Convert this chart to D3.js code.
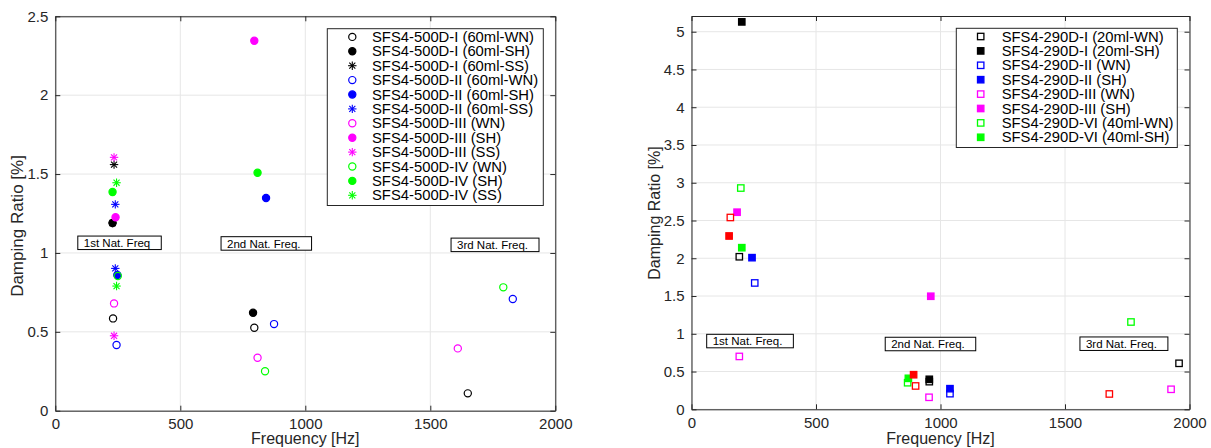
<!DOCTYPE html>
<html>
<head>
<meta charset="utf-8">
<title>Damping ratio vs frequency</title>
<script src="https://d3js.org/d3.v7.min.js"></script>
<style>
  body { margin: 0; background: #fff; }
  svg { display: block; font-family: "Liberation Sans", Arial, Helvetica, sans-serif; }
</style>
</head>
<body>
<script>
// ---- data: [frequency Hz, damping ratio %] ----
// left panel (SFS4-500D)
const d500_I_WN   = [[231, 0.585], [796, 0.526], [1650, 0.11]];
const d500_I_SH   = [[229, 1.19], [791, 0.621]];
const d500_I_SS   = [[235, 1.56], [229, 1.19]];
const d500_II_WN  = [[245, 0.416], [875, 0.549], [1830, 0.708]];
const d500_II_SH  = [[248, 0.86], [843, 1.348]];
const d500_II_SS  = [[240, 1.308], [240, 0.902]];
const d500_III_WN = [[235, 0.68], [809, 0.336], [1610, 0.395]];
const d500_III_SH = [[241, 1.226], [796, 2.345]];
const d500_III_SS = [[235, 1.606], [235, 0.475]];
const d500_IV_WN  = [[250, 0.854], [839, 0.25], [1792, 0.782]];
const d500_IV_SH  = [[229, 1.386], [809, 1.508]];
const d500_IV_SS  = [[245, 1.445], [245, 0.79]];

// right panel (SFS4-290D)
const d290_I_WN   = [[192, 2.02], [955, 0.366], [1958, 0.609]];
const d290_I_SH   = [[202, 5.13], [955, 0.397]];
const d290_II_WN  = [[254, 1.673], [1038, 0.207]];
const d290_II_SH  = [[243, 2.008], [1038, 0.273]];
const d290_III_WN = [[192, 0.70], [954, 0.159], [1926, 0.265]];
const d290_III_SH = [[183, 2.61], [961, 1.497]];
const d290_VI_WN  = [[198, 2.93], [868, 0.352], [1765, 1.156]];
const d290_VI_SH  = [[202, 2.14], [871, 0.41]];
const d290_X_WN   = [[156, 2.54], [900, 0.309], [1678, 0.203]];
const d290_X_SH   = [[151, 2.295], [892, 0.458]];

const leftNames = [
  'SFS4-500D-I (60ml-WN)', 'SFS4-500D-I (60ml-SH)', 'SFS4-500D-I (60ml-SS)',
  'SFS4-500D-II (60ml-WN)', 'SFS4-500D-II (60ml-SH)', 'SFS4-500D-II (60ml-SS)',
  'SFS4-500D-III (WN)', 'SFS4-500D-III (SH)', 'SFS4-500D-III (SS)',
  'SFS4-500D-IV (WN)', 'SFS4-500D-IV (SH)', 'SFS4-500D-IV (SS)'
];
const leftData = [
  d500_I_WN, d500_I_SH, d500_I_SS, d500_II_WN, d500_II_SH, d500_II_SS,
  d500_III_WN, d500_III_SH, d500_III_SS, d500_IV_WN, d500_IV_SH, d500_IV_SS
];

const rightNames = [
  'SFS4-290D-I (20ml-WN)', 'SFS4-290D-I (20ml-SH)',
  'SFS4-290D-II (WN)', 'SFS4-290D-II (SH)',
  'SFS4-290D-III (WN)', 'SFS4-290D-III (SH)',
  'SFS4-290D-VI (40ml-WN)', 'SFS4-290D-VI (40ml-SH)',
  null, null  // red series, not listed in the legend
];
const rightData = [
  d290_I_WN, d290_I_SH, d290_II_WN, d290_II_SH,
  d290_III_WN, d290_III_SH, d290_VI_WN, d290_VI_SH, d290_X_WN, d290_X_SH
];

const freqTicks = [0, 500, 1000, 1500, 2000];
const leftYTicks = [0, 0.5, 1, 1.5, 2, 2.5];
const rightYTicks = [0, 0.5, 1, 1.5, 2, 2.5, 3, 3.5, 4, 4.5, 5];

const leftNotes = [
  { text: '1st Nat. Freq', f: 90, v: 1.107 },
  { text: '2nd Nat. Freq.', f: 663, v: 1.103 },
  { text: '3rd Nat. Freq.', f: 1583, v: 1.094 }
];
const rightNotes = [
  { text: '1st Nat. Freq.', f: 61, v: 0.993 },
  { text: '2nd Nat. Freq.', f: 778, v: 0.954 },
  { text: '3rd Nat. Freq.', f: 1560, v: 0.958 }
];

// ---- styles ----
const leftColors = ['#000', '#000', '#000', '#00f', '#00f', '#00f', '#f0f', '#f0f', '#f0f', '#0f0', '#0f0', '#0f0'];
const leftShapes = ['o', 'of', '*', 'o', 'of', '*', 'o', 'of', '*', 'o', 'of', '*'];
const rightColors = ['#000', '#000', '#00f', '#00f', '#f0f', '#f0f', '#0f0', '#0f0', '#f00', '#f00'];
const rightShapes = ['s', 'sf', 's', 'sf', 's', 'sf', 's', 'sf', 's', 'sf'];

const svg = d3.select('body').append('svg')
  .attr('width', 1211)
  .attr('height', 448);

function drawMarker(g, shape, color, x, y) {
  if (shape === 'o' || shape === 'of') {
    g.append('circle')
      .attr('cx', x).attr('cy', y).attr('r', 3.6)
      .attr('fill', shape === 'of' ? color : 'none')
      .attr('stroke', color).attr('stroke-width', 1.2);
  } else if (shape === 's' || shape === 'sf') {
    g.append('rect')
      .attr('x', x - 3.2).attr('y', y - 3.2)
      .attr('width', 6.4).attr('height', 6.4)
      .attr('fill', shape === 'sf' ? color : 'none')
      .attr('stroke', color).attr('stroke-width', 1.3);
  } else {
    const r = 4.2, q = r * 0.72;
    [[-r, 0, r, 0], [0, -r, 0, r], [-q, -q, q, q], [-q, q, q, -q]].forEach(l => {
      g.append('line')
        .attr('x1', x + l[0]).attr('y1', y + l[1])
        .attr('x2', x + l[2]).attr('y2', y + l[3])
        .attr('stroke', color).attr('stroke-width', 1.1);
    });
  }
}

function drawPanel(opt) {
  const g = svg.append('g');
  const x = d3.scaleLinear().domain([0, 2000]).range([opt.left, opt.right]);
  const y = d3.scaleLinear().domain([0, opt.ymax]).range([opt.bottom, opt.top]);
  const axisColor = '#262626';

  // grid
  g.selectAll('.gx').data(freqTicks).enter().append('line')
    .attr('x1', d => x(d)).attr('x2', d => x(d))
    .attr('y1', opt.top).attr('y2', opt.bottom)
    .attr('stroke', '#e6e6e6').attr('stroke-width', 1);
  g.selectAll('.gy').data(opt.yTicks).enter().append('line')
    .attr('x1', opt.left).attr('x2', opt.right)
    .attr('y1', d => y(d)).attr('y2', d => y(d))
    .attr('stroke', '#e6e6e6').attr('stroke-width', 1);

  // axes (ticks inward, box)
  const bottomAxis = g.append('g').attr('transform', `translate(0,${opt.bottom})`)
    .call(d3.axisBottom(x).tickValues(freqTicks).tickSizeInner(-5).tickSizeOuter(0)
      .tickPadding(8).tickFormat(d3.format('d')));
  const topAxis = g.append('g').attr('transform', `translate(0,${opt.top})`)
    .call(d3.axisTop(x).tickValues(freqTicks).tickSizeInner(-5).tickSizeOuter(0).tickFormat(''));
  const leftAxis = g.append('g').attr('transform', `translate(${opt.left},0)`)
    .call(d3.axisLeft(y).tickValues(opt.yTicks).tickSizeInner(-5).tickSizeOuter(0)
      .tickPadding(7).tickFormat(d3.format('')));
  const rightAxis = g.append('g').attr('transform', `translate(${opt.right},0)`)
    .call(d3.axisRight(y).tickValues(opt.yTicks).tickSizeInner(-5).tickSizeOuter(0).tickFormat(''));
  [bottomAxis, topAxis, leftAxis, rightAxis].forEach(a => {
    a.attr('font-size', 15).attr('font-family', '"Liberation Sans", Arial, sans-serif');
    a.select('.domain').attr('stroke', axisColor).attr('stroke-width', 1);
    a.selectAll('.tick line').attr('stroke', axisColor);
    a.selectAll('.tick text').attr('fill', axisColor);
  });

  // axis labels
  g.append('text')
    .attr('x', (opt.left + opt.right) / 2).attr('y', 444)
    .attr('text-anchor', 'middle').attr('fill', axisColor)
    .style('font-size', '16px').text('Frequency [Hz]');
  g.append('text')
    .attr('transform', `translate(${opt.ylabel.x},${opt.ylabel.y}) rotate(-90)`)
    .attr('text-anchor', 'middle').attr('fill', axisColor)
    .style('font-size', opt.ylabel.size + 'px').text('Damping Ratio [%]');

  // annotation boxes
  opt.notes.forEach(n => {
    const bx = x(n.f), by = y(n.v);
    const ng = g.append('g');
    const r = ng.append('rect')
      .attr('x', bx).attr('y', by).attr('height', 13.5)
      .attr('fill', '#fff').attr('stroke', '#000').attr('stroke-width', 1);
    const t = ng.append('text')
      .attr('x', bx + 6).attr('y', by + 11)
      .attr('fill', '#000').style('font-size', '11.5px').text(n.text);
    r.attr('width', t.node().getComputedTextLength() + 17);
  });

  // points
  const pts = g.append('g');
  opt.data.forEach((series, i) => {
    series.forEach(p => drawMarker(pts, opt.shapes[i], opt.colors[i], x(p[0]), y(p[1])));
  });

  // legend
  const lg = g.append('g');
  const names = opt.names.filter(n => n !== null);
  lg.append('rect')
    .attr('x', opt.legend.x).attr('y', opt.legend.y)
    .attr('width', opt.legend.w).attr('height', names.length * 14.4 + 4)
    .attr('fill', '#fff').attr('stroke', '#262626').attr('stroke-width', 1);
  names.forEach((name, i) => {
    const cy = opt.legend.y + 8.2 + i * 14.4;
    drawMarker(lg, opt.shapes[i], opt.colors[i], opt.legend.x + opt.legend.mx, cy);
    lg.append('text')
      .attr('x', opt.legend.x + opt.legend.tx).attr('y', cy + 5)
      .attr('fill', '#000').style('font-size', '14.8px').text(name);
  });
}

drawPanel({
  left: 55.3, right: 555.3, top: 16.3, bottom: 410.7, ymax: 2.5,
  yTicks: leftYTicks, ylabel: { x: 23, y: 226, size: 17 },
  data: leftData, names: leftNames, colors: leftColors, shapes: leftShapes,
  notes: leftNotes,
  legend: { x: 327.3, y: 28.7, w: 216, mx: 25, tx: 44.7 }
});

drawPanel({
  left: 691.5, right: 1189.5, top: 16, bottom: 409.3, ymax: 5.208,
  yTicks: rightYTicks, ylabel: { x: 660, y: 213, size: 16 },
  data: rightData, names: rightNames, colors: rightColors, shapes: rightShapes,
  notes: rightNotes,
  legend: { x: 956.3, y: 28.3, w: 221, mx: 24.4, tx: 45.4 }
});
</script>
</body>
</html>
